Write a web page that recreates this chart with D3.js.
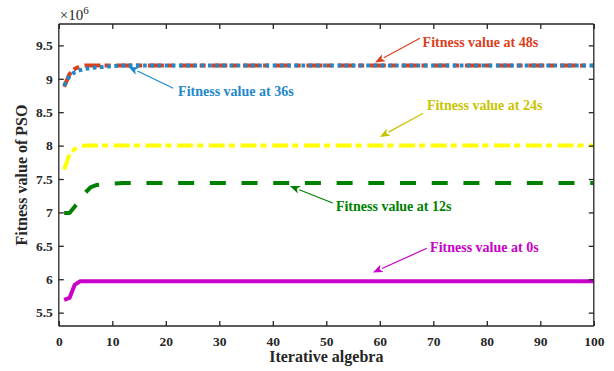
<!DOCTYPE html>
<html>
<head>
<meta charset="utf-8">
<script src="https://cdn.jsdelivr.net/npm/d3@7"></script>
<style>
  html, body { margin: 0; padding: 0; background: #fff; }
  svg { display: block; }
  text { font-family: "Liberation Serif", "Times New Roman", serif; font-weight: bold; }
</style>
</head>
<body>
<svg id="chart" width="614" height="371"></svg>
<script>
// Iterations at which fitness was sampled (curves are flat after convergence)
const iterations = [1, 2, 3, 4, 5, 6, 7, 8, 10, 12, 100];

// Best fitness (x10^6) per iteration, one run per time instant
const fit0s  = [5.69, 5.72, 5.92, 5.97, 5.97, 5.97, 5.97, 5.97, 5.97, 5.97, 5.97];
const fit12s = [6.99, 6.99, 7.09, 7.20, 7.30, 7.38, 7.41, 7.42, 7.43, 7.44, 7.44];
const fit24s = [7.64, 7.87, 7.95, 7.99, 8.00, 8.00, 8.00, 8.00, 8.00, 8.00, 8.00];
const fit36s = [8.90, 9.04, 9.10, 9.13, 9.15, 9.16, 9.17, 9.175, 9.19, 9.20, 9.20];
const fit48s = [8.88, 9.07, 9.15, 9.19, 9.20, 9.20, 9.20, 9.20, 9.20, 9.20, 9.20];

const xTicks = [0, 10, 20, 30, 40, 50, 60, 70, 80, 90, 100];
const yTicks = [5.5, 6, 6.5, 7, 7.5, 8, 8.5, 9, 9.5];

const seriesNames = ["Fitness value at 0s", "Fitness value at 12s", "Fitness value at 24s",
                     "Fitness value at 36s", "Fitness value at 48s"];

// Annotation anchors in data units: arrow tip, arrow tail, text origin
const noteTipX   = [58.7, 43.2, 60.0, 13.0, 59.1];
const noteTipY   = [6.10, 7.395, 8.13, 9.18, 9.245];
const noteTailX  = [68.8, 51.2, 68.1, 21.4, 67.5];
const noteTailY  = [6.463, 7.141, 8.484, 8.858, 9.606];
const noteTextX  = [69.4, 51.8, 68.8, 22.3, 68.0];
const noteTextY  = [6.482, 7.101, 8.608, 8.822, 9.546];

const svg = d3.select("#chart");
const W = 614, H = 371;
const margin = { left: 58.8, right: W - 593.8, top: 24, bottom: H - 326 };

const x = d3.scaleLinear().domain([0, 100]).range([margin.left, W - margin.right]);
const y = d3.scaleLinear().domain([5.3, 9.82]).range([H - margin.bottom, margin.top]);

const axisColor = "#262626";
const serif = "'Liberation Serif', 'Times New Roman', serif";

// Line styles per series
const styles = [
  { color: "#C800C8", text: "#C800C8", dash: null },
  { color: "#008000", text: "#008000", dash: "16,15.7" },
  { color: "#FFFF00", text: "#C8C400", dash: "16,4,6,5.7" },
  { color: "#1E88CC", text: "#1E88CC", dash: "3.6,3.6" },
  { color: "#DB3F1C", text: "#DB3F1C", dash: "16,4,6,5.7" }
];
const seriesValues = [fit0s, fit12s, fit24s, fit36s, fit48s];

// Clip to plot area
svg.append("defs").append("clipPath").attr("id", "plotClip")
  .append("rect")
  .attr("x", x(0)).attr("y", y(9.82))
  .attr("width", x(100) - x(0)).attr("height", y(5.3) - y(9.82));

const line = d3.line().x(d => x(d[0])).y(d => y(d[1]));

// Draw order: red first so the blue dotted run sits on top of it
const drawOrder = [0, 1, 2, 4, 3];
const plot = svg.append("g").attr("clip-path", "url(#plotClip)");
drawOrder.forEach(i => {
  const pts = iterations.map((it, k) => [it, seriesValues[i][k]]);
  plot.append("path")
    .attr("d", line(pts))
    .attr("fill", "none")
    .attr("stroke", styles[i].color)
    .attr("stroke-width", 4)
    .attr("stroke-linejoin", "round")
    .attr("stroke-dasharray", styles[i].dash);
});

// Axes box with inward ticks on all four sides
const gx = svg.append("g").attr("transform", `translate(0,${y(5.3)})`)
  .call(d3.axisBottom(x).tickValues(xTicks).tickSize(-5).tickPadding(10).tickFormat(d3.format("d")));
const gxTop = svg.append("g").attr("transform", `translate(0,${y(9.82)})`)
  .call(d3.axisTop(x).tickValues(xTicks).tickSize(-5).tickFormat(""));
const gy = svg.append("g").attr("transform", `translate(${x(0)},0)`)
  .call(d3.axisLeft(y).tickValues(yTicks).tickSize(-5).tickPadding(6).tickFormat(d3.format("~g")));
const gyRight = svg.append("g").attr("transform", `translate(${x(100)},0)`)
  .call(d3.axisRight(y).tickValues(yTicks).tickSize(-5).tickFormat(""));

[gx, gxTop, gy, gyRight].forEach(g => {
  g.attr("font-family", serif).attr("font-weight", "bold").attr("font-size", 13.5);
  g.select(".domain").attr("stroke", axisColor).attr("stroke-width", 1.3);
  g.selectAll(".tick line").attr("stroke", axisColor).attr("stroke-width", 1.3);
  g.selectAll(".tick text").attr("fill", axisColor)
    .style("font-family", serif).style("font-weight", "bold")
    .style("font-size", "13.5px");
});
gx.select(".domain").attr("d", `M${x(0)},0H${x(100)}`);
gxTop.select(".domain").attr("d", `M${x(0)},0H${x(100)}`);
gy.select(".domain").attr("d", `M0,${y(5.3)}V${y(9.82)}`);
gyRight.select(".domain").attr("d", `M0,${y(5.3)}V${y(9.82)}`);

// Exponent marker
const expo = svg.append("text")
  .attr("x", x(0) + 1).attr("y", 20)
  .attr("fill", axisColor)
  .style("font-weight", "normal")
  .style("font-size", "15px");
expo.append("tspan").text("\u00d710");
expo.append("tspan").attr("dy", -6).style("font-size", "11px").text("6");

// Axis titles
svg.append("text")
  .attr("x", (x(0) + x(100)) / 2).attr("y", 362)
  .attr("text-anchor", "middle")
  .attr("fill", axisColor)
  .style("font-size", "16px")
  .text("Iterative algebra");

svg.append("text")
  .attr("transform", `translate(27,${(y(5.3) + y(9.82)) / 2}) rotate(-90)`)
  .attr("text-anchor", "middle")
  .attr("fill", axisColor)
  .style("font-size", "16px")
  .text("Fitness value of PSO");

// Annotations with filled arrowheads
const notes = svg.append("g");
seriesNames.forEach((name, i) => {
  const c = styles[i].text;
  const tx = x(noteTipX[i]), ty = y(noteTipY[i]);
  const sx = x(noteTailX[i]), sy = y(noteTailY[i]);
  const ang = Math.atan2(ty - sy, tx - sx);
  const headLen = 10, headW = 4;
  const bx = tx - headLen * Math.cos(ang), by = ty - headLen * Math.sin(ang);
  notes.append("line")
    .attr("x1", sx).attr("y1", sy).attr("x2", bx).attr("y2", by)
    .attr("stroke", c).attr("stroke-width", 1.2);
  const px = -Math.sin(ang), py = Math.cos(ang);
  const back = 2.5;
  const nx = tx - (headLen - back) * Math.cos(ang), ny = ty - (headLen - back) * Math.sin(ang);
  notes.append("path")
    .attr("d", `M${tx},${ty}L${bx + px * headW},${by + py * headW}L${nx},${ny}L${bx - px * headW},${by - py * headW}Z`)
    .attr("fill", c);
  notes.append("text")
    .attr("x", x(noteTextX[i])).attr("y", y(noteTextY[i]))
    .attr("dy", "0.35em")
    .attr("fill", c)
    .style("font-family", serif)
    .style("font-size", "14px")
    .text(name);
});
</script>
</body>
</html>
